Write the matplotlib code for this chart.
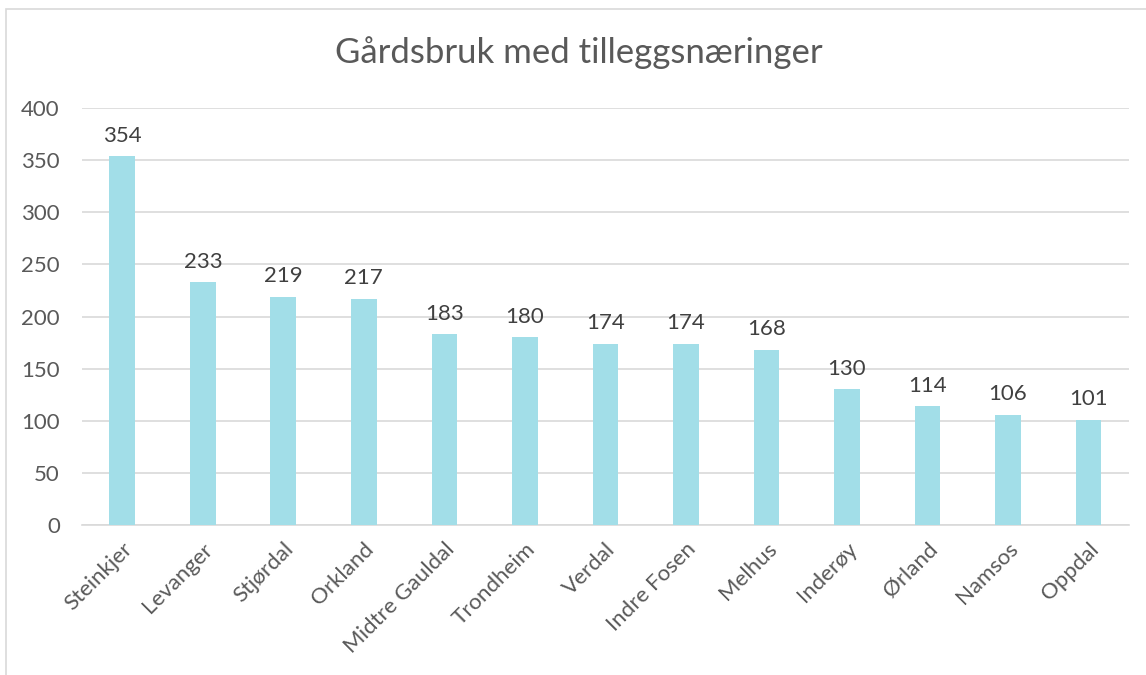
import matplotlib.pyplot as plt
from matplotlib.patches import Rectangle

# Data
kommuner = ['Steinkjer', 'Levanger', 'Stjørdal', 'Orkland', 'Midtre Gauldal',
            'Trondheim', 'Verdal', 'Indre Fosen', 'Melhus', 'Inderøy',
            'Ørland', 'Namsos', 'Oppdal']
antall = [354, 233, 219, 217, 183, 180, 174, 174, 168, 130, 114, 106, 101]

plt.rcParams['font.family'] = ['Lato', 'DejaVu Sans']
text_color = '#595959'

fig = plt.figure(figsize=(11.46, 6.75), dpi=100)
ax = fig.add_axes([0.0716, 0.2222, 0.9134, 0.6178])

x = range(len(kommuner))
bars = ax.bar(x, antall, width=0.32, color='#A2DEE8', zorder=3)

for xi, v in zip(x, antall):
    ax.text(xi, v + 10, str(v), ha='center', va='bottom',
            fontsize=16, color='#404040')

ax.set_xlim(-0.5, len(kommuner) - 0.5)
ax.set_ylim(0, 400)
ax.set_yticks(range(0, 401, 50))
ax.yaxis.grid(True, color='#D9D9D9', linewidth=1.2, zorder=0)
ax.set_xticks(list(x))
ax.set_xticklabels(kommuner, rotation=45, ha='right', rotation_mode='anchor',
                   fontsize=16, color=text_color)
ax.tick_params(axis='y', labelsize=16, labelcolor=text_color, length=0, pad=16)
ax.tick_params(axis='x', length=0, pad=10)

for s in ['top', 'right', 'left']:
    ax.spines[s].set_visible(False)
ax.spines['bottom'].set_color('#D9D9D9')
ax.spines['bottom'].set_linewidth(1.2)

fig.text(0.505, 0.922, 'Gårdsbruk med tilleggsnæringer', ha='center', va='center',
         fontsize=25, color=text_color)

# chart frame
fig.patches.append(Rectangle((6 / 1146, -0.05), 1.2, 1 - 9 / 675 + 0.05,
                             transform=fig.transFigure, fill=False,
                             edgecolor='#D9D9D9', linewidth=1.2))

fig.savefig('out.png', dpi=100)
